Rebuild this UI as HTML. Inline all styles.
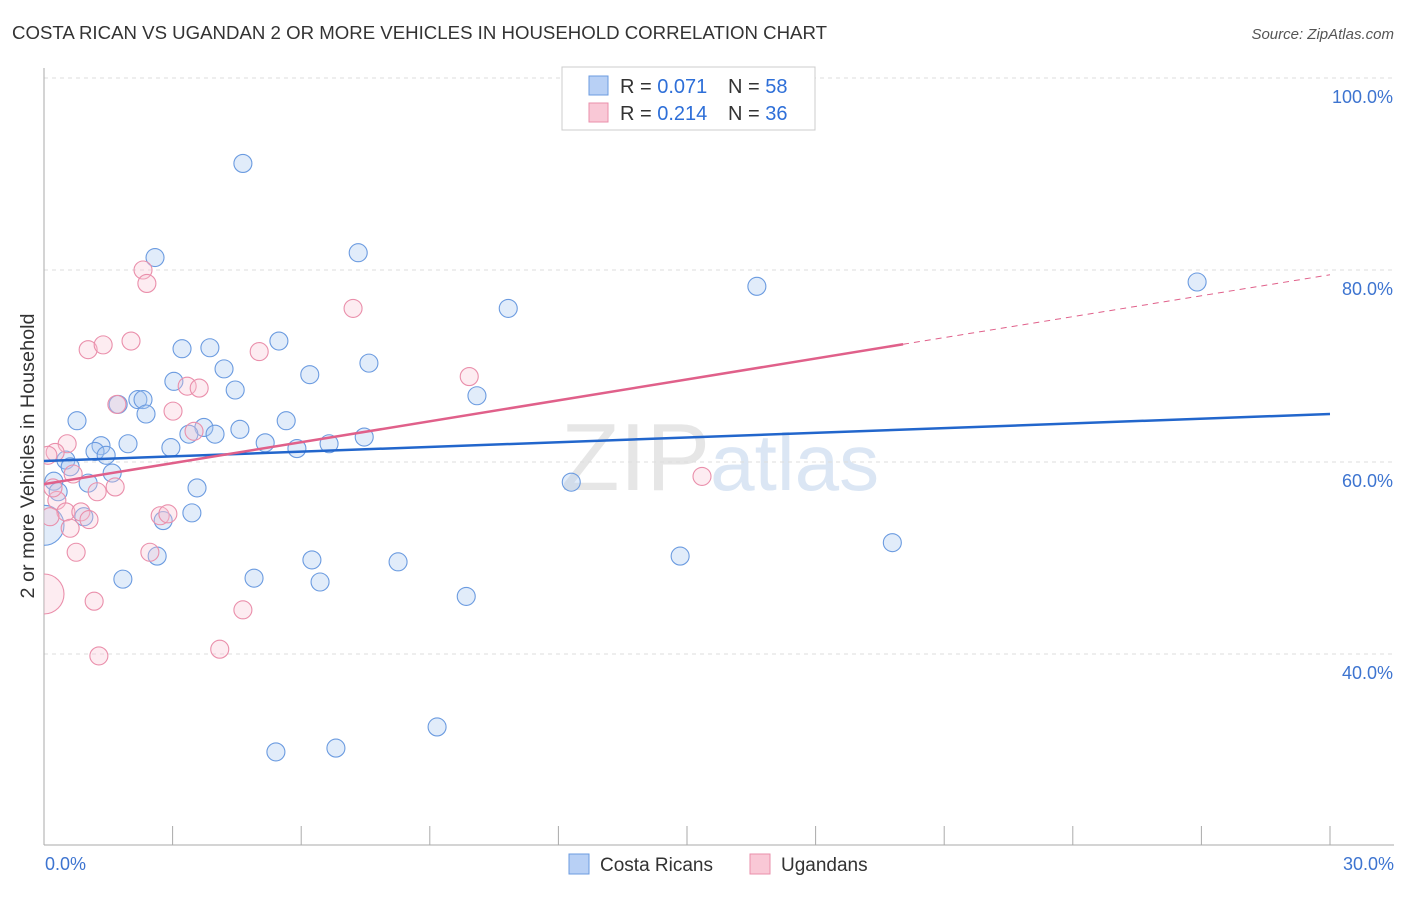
<!DOCTYPE html>
<html><head><meta charset="utf-8"><style>
body{margin:0;background:#fff;font-family:"Liberation Sans",sans-serif}
svg text{font-family:"Liberation Sans",sans-serif}
</style></head><body>
<svg id="chart" width="1406" height="892" xmlns="http://www.w3.org/2000/svg">
<defs><clipPath id="plotclip"><rect x="44" y="60" width="1362" height="786"/></clipPath></defs>
<text x="12" y="39" font-size="18" fill="#333" textLength="815" lengthAdjust="spacingAndGlyphs">COSTA RICAN VS UGANDAN 2 OR MORE VEHICLES IN HOUSEHOLD CORRELATION CHART</text>
<text x="1394" y="39" font-size="15" fill="#555" text-anchor="end" font-style="italic">Source: ZipAtlas.com</text>
<text x="720" y="490" font-size="96" text-anchor="middle" fill="#e6e6e6" font-family="Liberation Serif">ZIP<tspan fill="#dbe6f4" font-family="Liberation Sans" font-size="80">atlas</tspan></text>
<g id="grid"></g><g id="axes"></g><g id="pts" clip-path="url(#plotclip)"></g><g id="trend"></g>
<text transform="translate(34,456) rotate(-90)" font-size="19" fill="#333" text-anchor="middle" textLength="285" lengthAdjust="spacingAndGlyphs">2 or more Vehicles in Household</text>
<g>
<rect x="562" y="67" width="253" height="63" fill="#fff" stroke="#ccc"/>
<rect x="589" y="76" width="19" height="19" fill="#b8d0f5" stroke="#6b9be0"/>
<rect x="589" y="103" width="19" height="19" fill="#f9c8d6" stroke="#ea8fab"/>
<text x="620" y="93" font-size="20" fill="#333">R = <tspan fill="#2e6fd8">0.071</tspan></text>
<text x="728" y="93" font-size="20" fill="#333">N = <tspan fill="#2e6fd8">58</tspan></text>
<text x="620" y="120" font-size="20" fill="#333">R = <tspan fill="#2e6fd8">0.214</tspan></text>
<text x="728" y="120" font-size="20" fill="#333">N = <tspan fill="#2e6fd8">36</tspan></text>
</g>
<g>
<rect x="569" y="854" width="20" height="20" fill="#b8d0f5" stroke="#6b9be0"/>
<text x="600" y="871" font-size="19" fill="#333">Costa Ricans</text>
<rect x="750" y="854" width="20" height="20" fill="#f9c8d6" stroke="#ea8fab"/>
<text x="781" y="871" font-size="19" fill="#333">Ugandans</text>
</g>
</svg>
<script>
const yTicks=[40,60,80,100];
const xTickLabels=["0.0%","30.0%"];
const blueX=[4.64,2.59,7.33,16.63,26.9,10.83,5.48,3.22,3.87,7.58,6.2,4.2,3.03,4.46,10.1,2.19,2.31,1.73,2.38,0.77,5.65,3.73,4.57,3.38,3.99,7.47,1.96,5.16,6.65,1.33,1.19,2.96,5.9,1.45,0.51,0.61,1.59,0.23,1.03,12.3,3.57,0.33,0.93,3.45,2.78,0,2.64,6.25,8.26,14.84,19.79,1.84,4.9,6.44,9.85,9.17,5.41,6.81];
const blueY=[91.1,81.3,81.8,78.3,78.75,76.0,72.6,71.8,71.9,70.3,69.1,69.7,68.4,67.5,66.9,66.5,66.5,66.0,65.0,64.3,64.3,63.6,63.4,62.9,62.9,62.6,61.9,62.0,61.9,61.7,61.1,61.5,61.4,60.7,60.2,59.5,58.85,58.0,57.8,57.9,57.3,56.9,54.3,54.7,53.9,53.4,50.2,49.8,49.6,50.2,51.6,47.8,47.9,47.5,46.0,32.4,29.8,30.2];
const pinkX=[2.31,2.4,7.21,2.03,1.03,1.38,5.02,3.34,3.62,9.92,1.7,3.01,3.5,0.54,0.26,0.68,1.66,1.24,0.30,15.35,0.51,0.14,0.86,1.05,2.71,2.89,0.61,0.75,2.47,0,1.17,4.64,4.1,1.28,0.21,0.09];
const pinkY=[80.0,78.6,76.0,72.6,71.7,72.2,71.5,67.9,67.7,68.9,66.0,65.3,63.2,61.9,61.0,58.75,57.4,56.9,56.0,58.5,54.8,54.3,54.8,54.0,54.4,54.6,53.1,50.6,50.6,46.25,45.5,44.6,40.5,39.8,57.3,60.7];
const blueTrend=[60.1,65.0];
const pinkTrend=[57.7,79.5];
const pinkSolidEnd=20.04;
const NS="http://www.w3.org/2000/svg";
const sx=v=>44+v/30*1286, sy=v=>78+(100-v)/20*192;
function mk(t,a,p){const e=document.createElementNS(NS,t);for(const k in a)e.setAttribute(k,a[k]);document.getElementById(p).appendChild(e);return e;}
yTicks.forEach(t=>{
 const l=mk('line',{x1:44,x2:1394,y1:sy(t),y2:sy(t),stroke:'#ddd','stroke-dasharray':'4,4'},'grid');
 
 
 const tx=mk('text',{x:1393,y:sy(t)+25,'font-size':18,fill:'#3d74d0','text-anchor':'end'},'grid');
 tx.textContent=t.toFixed(1)+'%';
 
 
});
mk('line',{x1:44,x2:44,y1:68,y2:845,stroke:'#aaa'},'axes');
mk('line',{x1:44,x2:1394,y1:845,y2:845,stroke:'#aaa'},'axes');
for(let i=0;i<=10;i++){mk('line',{x1:sx(i*3),x2:sx(i*3),y1:826,y2:845,stroke:'#aaa'},'axes');}
const xl0=mk('text',{x:45,y:870,'font-size':18,fill:'#3d74d0'},'axes');xl0.textContent=xTickLabels[0];


const xl1=mk('text',{x:1394,y:870,'font-size':18,fill:'#3d74d0','text-anchor':'end'},'axes');xl1.textContent=xTickLabels[1];


blueX.forEach((x,i)=>{
 const c=mk('circle',{cx:sx(x),cy:sy(blueY[i]),r:x===0?20:9,fill:'rgba(170,200,240,0.35)',stroke:'#6b9be0','stroke-width':1.1},'pts');
 
 
});
pinkX.forEach((x,i)=>{
 const c=mk('circle',{cx:sx(x),cy:sy(pinkY[i]),r:x===0?20:9,fill:'rgba(248,195,212,0.32)',stroke:'#ea8fab','stroke-width':1.1},'pts');
 
 
});
const bt=mk('line',{x1:sx(0),y1:sy(blueTrend[0]),x2:sx(30),y2:sy(blueTrend[1]),stroke:'#2266cc','stroke-width':2.5},'trend');


const pAt=x=>pinkTrend[0]+(pinkTrend[1]-pinkTrend[0])*x/30;
const pt=mk('line',{x1:sx(0),y1:sy(pAt(0)),x2:sx(pinkSolidEnd),y2:sy(pAt(pinkSolidEnd)),stroke:'#e0608a','stroke-width':2.5},'trend');


const pd=mk('line',{x1:sx(pinkSolidEnd),y1:sy(pAt(pinkSolidEnd)),x2:sx(30),y2:sy(pAt(30)),stroke:'#e0608a','stroke-width':1,'stroke-dasharray':'6,5'},'trend');


</script>
</body></html>
